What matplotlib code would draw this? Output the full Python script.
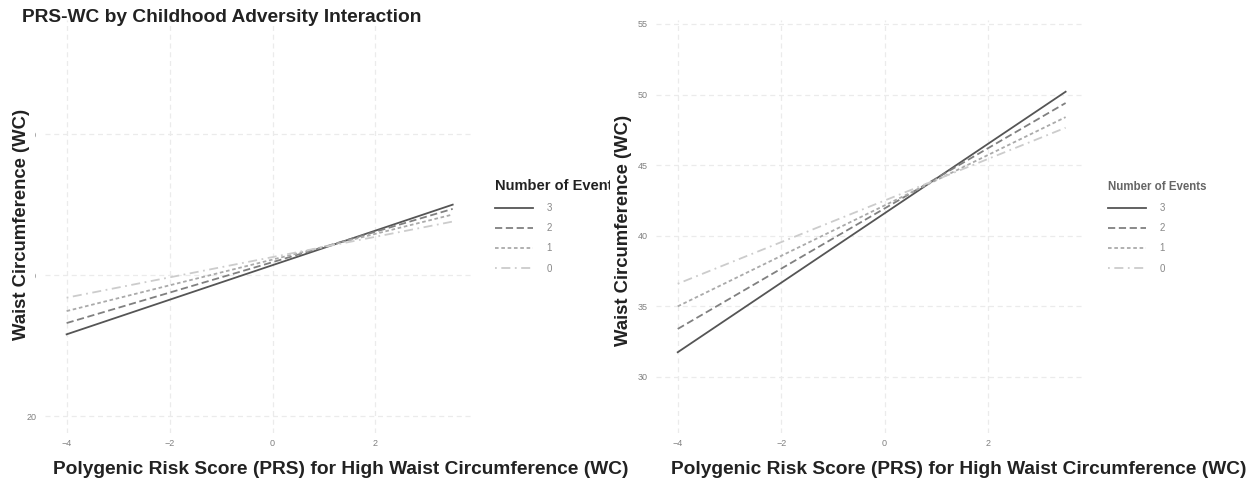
import numpy as np
import matplotlib
matplotlib.use("Agg")
import matplotlib.pyplot as plt

plt.rcParams['font.family'] = ['Liberation Sans', 'DejaVu Sans']

# PRS range and fitted WC at the ends, per number of adversity events
prs = [-4.0, 3.5]
events = ['3', '2', '1', '0']
left_wc = {
    '3': [25.8, 35.0],
    '2': [26.6, 34.7],
    '1': [27.45, 34.3],
    '0': [28.4, 33.8],
}
right_wc = {
    '3': [31.75, 50.2],
    '2': [33.4, 49.4],
    '1': [35.0, 48.4],
    '0': [36.6, 47.65],
}
styles = {
    '3': dict(color='#555555', ls='-'),
    '2': dict(color='#808080', ls=(0, (4, 2))),
    '1': dict(color='#aaaaaa', ls=(0, (2, 1.5))),
    '0': dict(color='#cccccc', ls=(0, (1, 2.5, 5, 2.5))),
}
left_yticks = [20, 30, 40]
right_yticks = [30, 35, 40, 45, 50, 55]
xticks = [-4, -2, 0, 2]

W, H = 1254, 483
fig = plt.figure(figsize=(W / 100, H / 100), dpi=100)


def px(x0, y0, x1, y1):
    return [x0 / W, 1 - y1 / H, (x1 - x0) / W, (y1 - y0) / H]


def panel(rect, data, ylim, yticks):
    ax = fig.add_axes(rect)
    for e in events:
        ax.plot(prs, data[e], lw=1.3, label=e, **styles[e])
    ax.set_xlim(-4.42, 3.875)
    ax.set_ylim(*ylim)
    ax.set_xticks(xticks)
    ax.set_xticklabels(['\u22124', '\u22122', '0', '2'])
    ax.set_yticks(yticks)
    ax.grid(True, color='#ebebeb', ls=(0, (4, 3)), lw=0.9)
    ax.set_axisbelow(True)
    for s in ax.spines.values():
        s.set_visible(False)
    ax.tick_params(length=0, labelsize=6.5, colors='#808080', pad=6)
    ax.tick_params(axis='x', pad=4)
    return ax


axL = panel(px(45, 20, 472, 433), left_wc, (18.8, 48.1), left_yticks)
axR = panel(px(656, 20, 1085, 433), right_wc, (26.03, 55.28), right_yticks)

# legends
legL = axL.legend(loc='upper left', bbox_to_anchor=(486 / W, 1 - 170 / H),
                  bbox_transform=fig.transFigure, frameon=False, fontsize=7,
                  title='Number of Events', alignment='left',
                  handlelength=3.9, handletextpad=1.4, labelspacing=1.05,
                  labelcolor='#888888')
legL.get_title().set_fontsize(10.5)
legL.get_title().set_fontweight('bold')
legL.get_title().set_color('#222222')

legR = axR.legend(loc='upper left', bbox_to_anchor=(1099 / W, 1 - 172 / H),
                  bbox_transform=fig.transFigure, frameon=False, fontsize=7,
                  title='Number of Events', alignment='left',
                  handlelength=3.9, handletextpad=1.4, labelspacing=1.05,
                  labelcolor='#888888')
legR.get_title().set_fontsize(8.3)
legR.get_title().set_fontweight('bold')
legR.get_title().set_color('#666666')

# titles and axis labels
fig.text(22 / W, 1 - 18 / H, 'PRS-WC by Childhood Adversity Interaction',
         fontsize=13.8, fontweight='bold', color='#222222', va='center', ha='left')

xlab = 'Polygenic Risk Score (PRS) for High Waist Circumference (WC)'
ylab = 'Waist Circumference (WC)'
fig.text(341 / W, 1 - 470 / H, xlab, fontsize=13.8, fontweight='bold',
         color='#222222', ha='center', va='center')
fig.text(959 / W, 1 - 470 / H, xlab, fontsize=13.8, fontweight='bold',
         color='#222222', ha='center', va='center')
fig.text(22 / W, 1 - 224 / H, ylab, fontsize=13.3, fontweight='bold',
         color='#222222', ha='center', va='center', rotation=90,
         bbox=dict(facecolor='white', edgecolor='none', pad=3))
fig.text(624 / W, 1 - 230 / H, ylab, fontsize=13.3, fontweight='bold',
         color='#222222', ha='center', va='center', rotation=90, zorder=10,
         bbox=dict(facecolor='white', edgecolor='none', pad=4))

fig.savefig('out.png', dpi=100)
